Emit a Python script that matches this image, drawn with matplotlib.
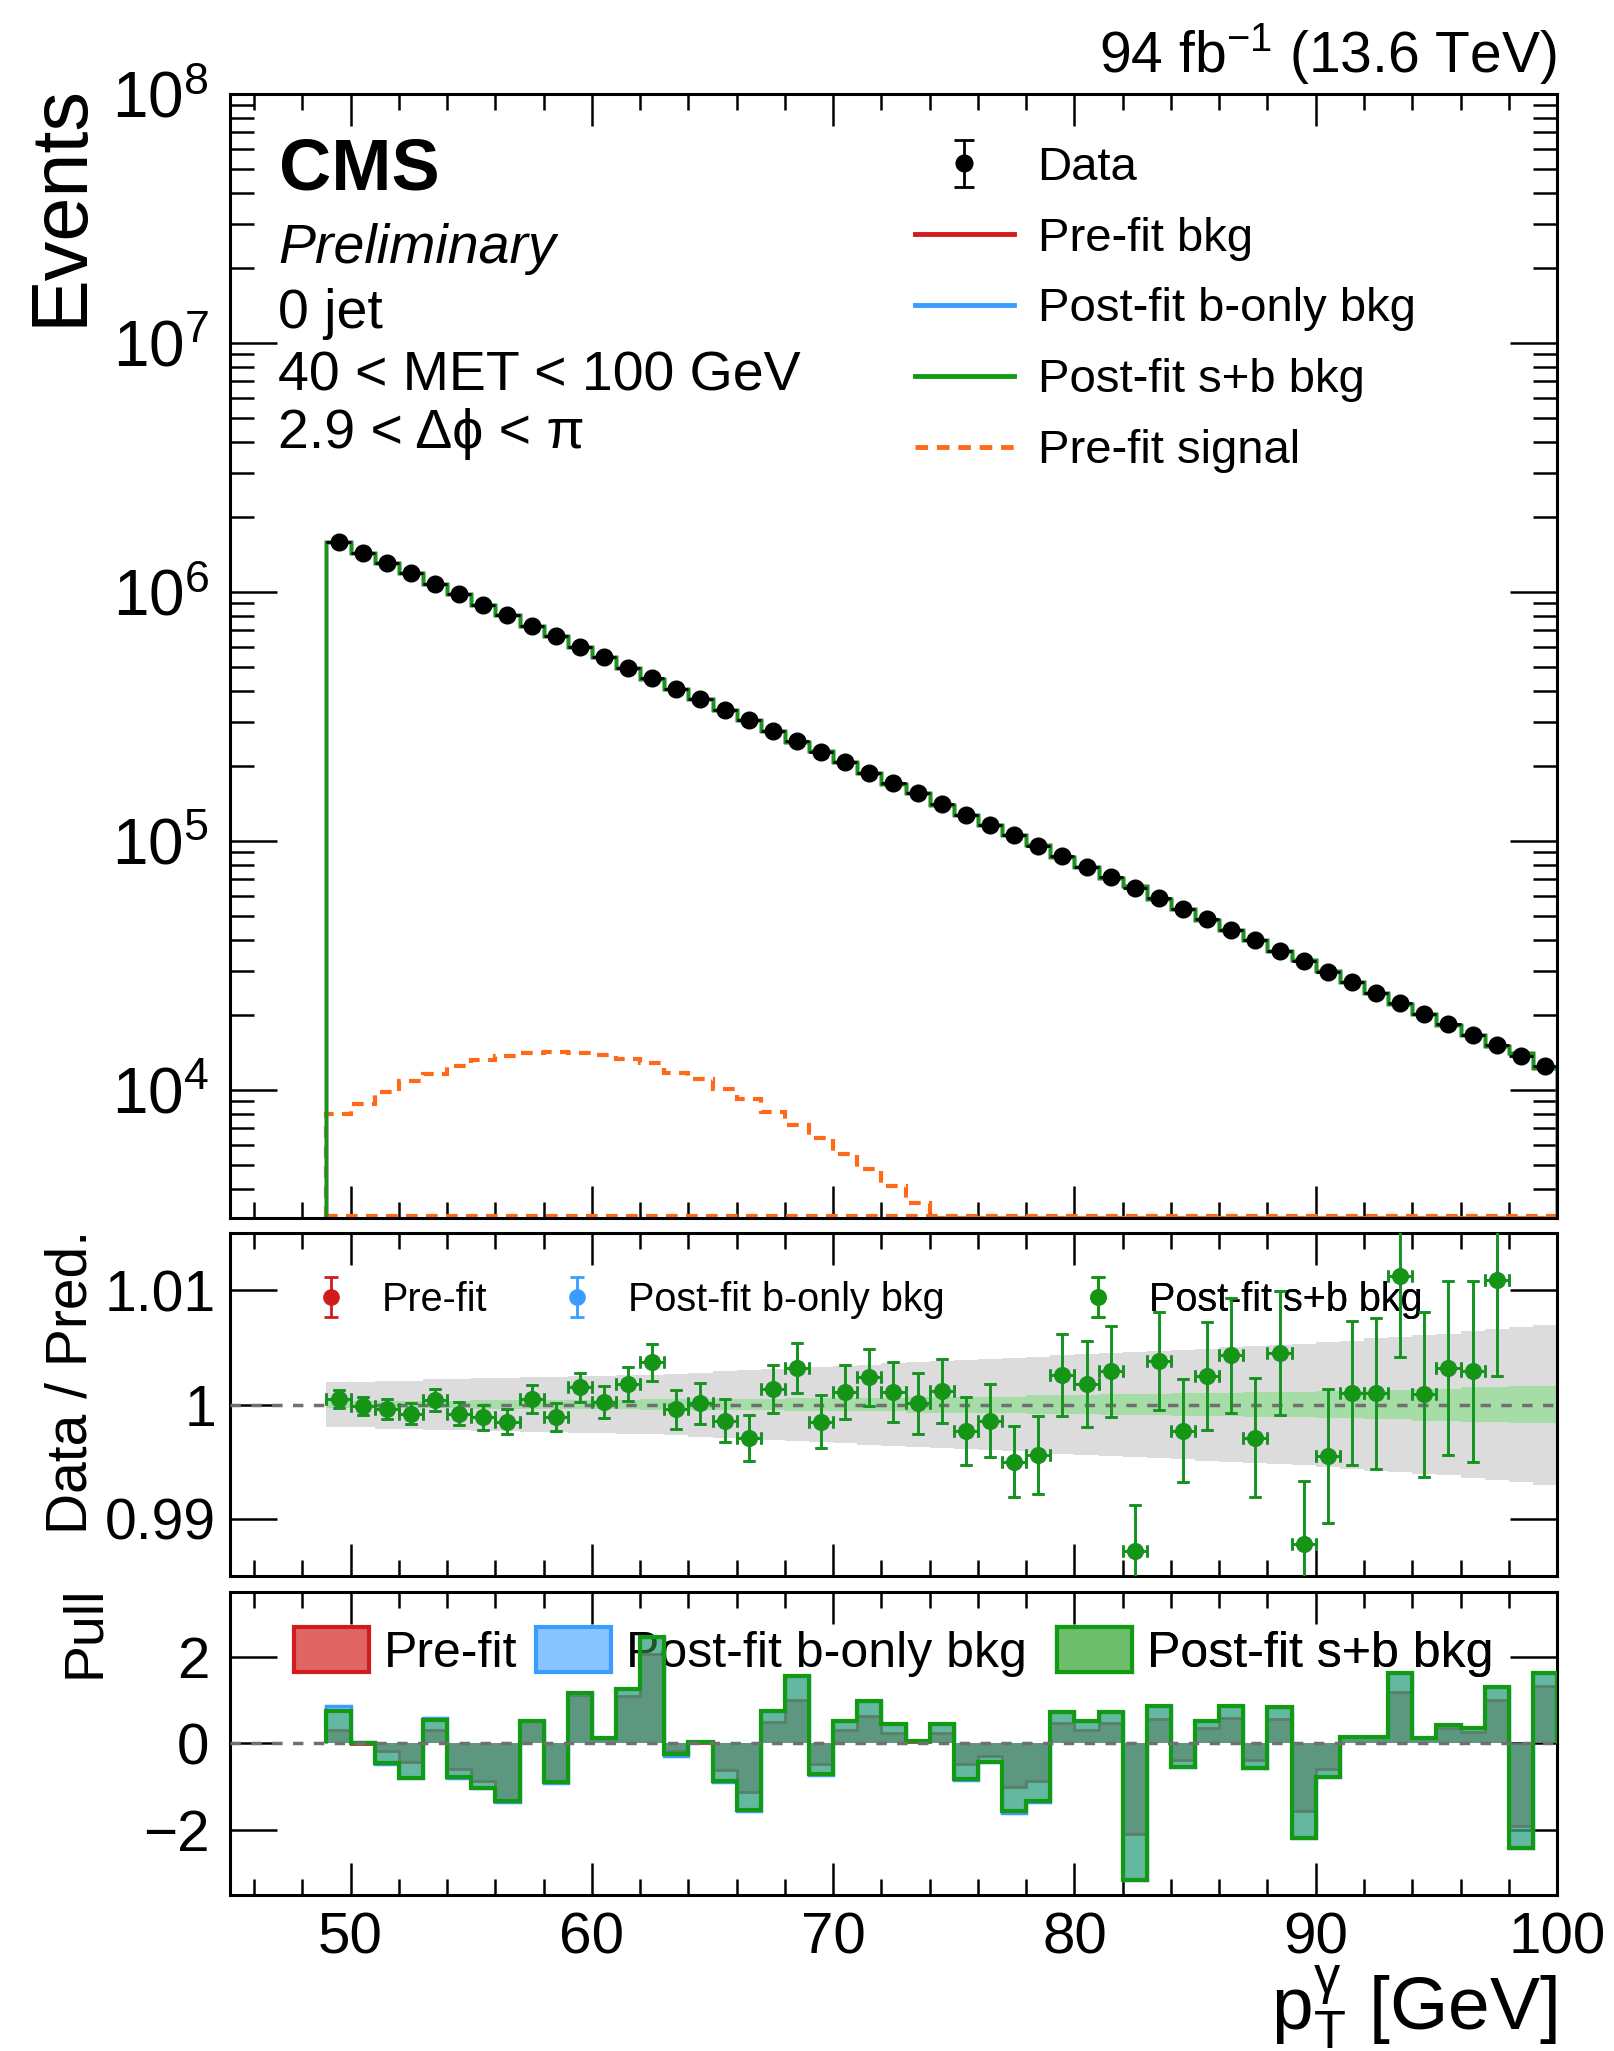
import numpy as np
import matplotlib
matplotlib.use('Agg')
import matplotlib.pyplot as plt
from matplotlib.ticker import (FixedLocator, MultipleLocator, LogLocator,
                               FuncFormatter, NullFormatter)
from matplotlib.lines import Line2D
from matplotlib.patches import Patch
from matplotlib.collections import LineCollection
from matplotlib.container import ErrorbarContainer

plt.rcParams['font.family'] = ['Liberation Sans', 'DejaVu Sans']
plt.rcParams['mathtext.fontset'] = 'custom'
plt.rcParams['mathtext.rm'] = 'Liberation Sans'
plt.rcParams['mathtext.it'] = 'Liberation Sans:italic'
plt.rcParams['mathtext.bf'] = 'Liberation Sans:bold'

# ---- data (1 GeV bins from 49 to 100 GeV) ----
pt_low, pt_high = 49, 100

data_events = [1.585e6, 1.438e6, 1.305e6, 1.185e6, 1.075e6, 9.76e5, 8.86e5, 8.04e5, 7.30e5, 6.62e5,
               6.01e5, 5.46e5, 4.95e5, 4.50e5, 4.08e5, 3.70e5, 3.36e5, 3.05e5, 2.77e5, 2.51e5,
               2.28e5, 2.07e5, 1.88e5, 1.70e5, 1.55e5, 1.40e5, 1.27e5, 1.16e5, 1.05e5, 9.53e4,
               8.65e4, 7.85e4, 7.13e4, 6.47e4, 5.87e4, 5.33e4, 4.83e4, 4.39e4, 3.98e4, 3.61e4,
               3.28e4, 2.98e4, 2.70e4, 2.45e4, 2.23e4, 2.02e4, 1.83e4, 1.66e4, 1.51e4, 1.37e4,
               1.245e4]

signal_prefit = [8.0e3, 8.8e3, 9.8e3, 1.08e4, 1.16e4, 1.25e4, 1.32e4, 1.37e4, 1.40e4, 1.42e4,
                 1.41e4, 1.38e4, 1.33e4, 1.28e4, 1.17e4, 1.10e4, 1.01e4, 9.2e3, 8.1e3, 7.2e3,
                 6.4e3, 5.5e3, 4.8e3, 4.1e3, 3.5e3, 0, 0, 0, 0, 0,
                 0, 0, 0, 0, 0, 0, 0, 0, 0, 0,
                 0, 0, 0, 0, 0, 0, 0, 0, 0, 0,
                 0]

ratio_sb = [1.0005, 0.9999, 0.9996, 0.9992, 1.0004, 0.9992, 0.9989, 0.9985, 1.0005, 0.9989,
            1.0015, 1.0002, 1.0018, 1.0037, 0.9996, 1.0001, 0.9986, 0.9971, 1.0014, 1.0032,
            0.9985, 1.0011, 1.0024, 1.0011, 1.0001, 1.0012, 0.9977, 0.9986, 0.9950, 0.9956,
            1.0026, 1.0018, 1.0029, 0.9872, 1.0038, 0.9977, 1.0025, 1.0043, 0.9971, 1.0045,
            0.9878, 0.9955, 1.0010, 1.0010, 1.0112, 1.0009, 1.0032, 1.0029, 1.0109, 0.9790,
            1.0158]

ratio_err = [0.0008, 0.0008, 0.0009, 0.0009, 0.0010, 0.0010, 0.0011, 0.0011, 0.0012, 0.0012,
             0.0013, 0.0014, 0.0015, 0.0016, 0.0017, 0.0018, 0.0019, 0.0020, 0.0021, 0.0022,
             0.0023, 0.0024, 0.0025, 0.0026, 0.0027, 0.0028, 0.0030, 0.0032, 0.0031, 0.0034,
             0.0036, 0.0038, 0.0040, 0.0040, 0.0043, 0.0045, 0.0047, 0.0050, 0.0052, 0.0054,
             0.0055, 0.0059, 0.0063, 0.0066, 0.0070, 0.0072, 0.0076, 0.0079, 0.0084, 0.0086,
             0.0090]

unc_prefit = [0.0020, 0.0020, 0.0021, 0.0021, 0.0022, 0.0022, 0.0023, 0.0023, 0.0024, 0.0024,
              0.0025, 0.0025, 0.0026, 0.0026, 0.0027, 0.0028, 0.0029, 0.0030, 0.0031, 0.0032,
              0.0033, 0.0034, 0.0035, 0.0036, 0.0037, 0.0038, 0.0039, 0.0040, 0.0041, 0.0042,
              0.0043, 0.0044, 0.0045, 0.0046, 0.0047, 0.0048, 0.0049, 0.0050, 0.0051, 0.0052,
              0.0053, 0.0055, 0.0056, 0.0058, 0.0059, 0.0061, 0.0062, 0.0064, 0.0066, 0.0068,
              0.0070]

unc_postfit = [0.0003, 0.0003, 0.0003, 0.0003, 0.0003, 0.0003, 0.0004, 0.0004, 0.0004, 0.0004,
               0.0004, 0.0004, 0.0004, 0.0005, 0.0005, 0.0005, 0.0005, 0.0005, 0.0005, 0.0006,
               0.0006, 0.0006, 0.0006, 0.0006, 0.0007, 0.0007, 0.0007, 0.0007, 0.0007, 0.0008,
               0.0008, 0.0008, 0.0009, 0.0009, 0.0009, 0.0010, 0.0010, 0.0010, 0.0011, 0.0011,
               0.0011, 0.0012, 0.0012, 0.0013, 0.0013, 0.0014, 0.0014, 0.0015, 0.0015, 0.0016,
               0.0016]

pull_prefit = [0.30, -0.01, -0.17, -0.43, 0.30, -0.58, -0.86, -1.32, 0.52, -0.90,
               1.13, 0.10, 1.09, 2.06, -0.17, 0.00, -0.62, -1.13, 0.50, 1.01,
               -0.48, 0.31, 0.64, 0.23, 0.04, 0.25, -0.48, -0.30, -1.00, -0.86,
               0.47, 0.31, 0.47, -2.10, 0.56, -0.39, 0.35, 0.58, -0.39, 0.56,
               -1.56, -0.58, 0.16, 0.16, 1.18, 0.12, 0.35, 0.27, 1.01, -1.91,
               1.32]

pull_bonly = [0.87, 0.03, -0.47, -0.80, 0.58, -0.79, -1.04, -1.35, 0.52, -0.91,
              1.17, 0.12, 1.25, 2.45, -0.28, 0.04, -0.88, -1.57, 0.74, 1.57,
              -0.72, 0.51, 0.97, 0.44, 0.06, 0.44, -0.85, -0.43, -1.60, -1.36,
              0.72, 0.51, 0.72, -3.15, 0.87, -0.55, 0.53, 0.87, -0.57, 0.84,
              -2.18, -0.78, 0.16, 0.16, 1.62, 0.12, 0.43, 0.35, 1.31, -2.41,
              1.62]

pull_sb = [0.76, 0.01, -0.45, -0.79, 0.55, -0.78, -1.03, -1.34, 0.52, -0.90,
           1.17, 0.12, 1.25, 2.45, -0.25, 0.04, -0.86, -1.54, 0.74, 1.57,
           -0.70, 0.51, 0.97, 0.44, 0.06, 0.44, -0.82, -0.42, -1.56, -1.32,
           0.72, 0.51, 0.72, -3.15, 0.87, -0.54, 0.53, 0.87, -0.56, 0.84,
           -2.18, -0.78, 0.16, 0.16, 1.62, 0.12, 0.43, 0.35, 1.31, -2.41,
           1.62]

edges = np.arange(pt_low, pt_high + 1)
centers = 0.5 * (edges[:-1] + edges[1:])
data = np.array(data_events)
ratio = np.array(ratio_sb)
rerr = np.array(ratio_err)
bkg = data / ratio          # predicted background, same for the three fits at this scale

RED = '#d01c1c'
BLUE = '#3b9cff'
GREEN = '#139a13'
PGREEN = '#149614'
ORANGE = '#ff6a1a'
XMIN, XMAX = 45, 100
YMIN, YMAX = 3.05e3, 1e8
RMIN, RMAX = 0.985, 1.015

fig = plt.figure(figsize=(16.15, 20.51), dpi=100)
ax1 = fig.add_axes([0.1424, 0.4061, 0.8217, 0.5481])
ax2 = fig.add_axes([0.1424, 0.2316, 0.8217, 0.1672])
ax3 = fig.add_axes([0.1424, 0.0761, 0.8217, 0.1477])


def style(ax, ymajor_len, yminor_len, ypad=15):
    for sp in ax.spines.values():
        sp.set_linewidth(2.2)
    ax.tick_params(which='both', direction='in', top=True, right=True, width=1.8)
    ax.tick_params(axis='x', which='major', length=23)
    ax.tick_params(axis='x', which='minor', length=11.5)
    ax.tick_params(axis='y', which='major', length=ymajor_len, pad=ypad)
    ax.tick_params(axis='y', which='minor', length=yminor_len)
    ax.xaxis.set_major_locator(MultipleLocator(10))
    ax.xaxis.set_minor_locator(MultipleLocator(2))
    ax.set_xlim(XMIN, XMAX)


def errbar_handle(color, ms, capms):
    # legend proxy: marker with a vertical error bar and caps
    marker = Line2D([], [], marker='o', ls='none', color=color, ms=ms)
    cap = Line2D([], [], marker='_', ls='none', color=color, ms=capms, mew=2)
    bars = LineCollection([], colors=color, linewidths=2)
    return ErrorbarContainer((marker, (cap, cap), (bars,)), has_xerr=False, has_yerr=True)


def entry_legend(ax, handle, label, x, y, fs, hl, pad, hh=0.7):
    leg = ax.legend([handle], [label], loc='center left', bbox_to_anchor=(x, y),
                    frameon=False, fontsize=fs, handlelength=hl, handletextpad=pad,
                    handleheight=hh, borderpad=0, borderaxespad=0)
    ax.add_artist(leg)


# ---- top panel ----
style(ax1, 34, 17)
ax1.set_yscale('log')
ax1.set_ylim(YMIN, YMAX)
ax1.yaxis.set_major_locator(LogLocator(base=10, numticks=12))
ax1.yaxis.set_minor_locator(LogLocator(base=10, subs=np.arange(2, 10), numticks=12))
ax1.yaxis.set_major_formatter(FuncFormatter(lambda v, p: r'$\mathregular{10^{%d}}$' % round(np.log10(v))))
ax1.yaxis.set_minor_formatter(NullFormatter())
ax1.tick_params(axis='y', labelsize=46)
ax1.tick_params(axis='x', labelbottom=False)

sig = np.maximum(np.array(signal_prefit), YMIN)
ax1.stairs(sig, edges, baseline=YMIN, color=ORANGE, lw=3, ls=(0, (2.8, 2.0)), zorder=2.0)
ax1.plot([edges[0], edges[-1]], [YMIN * 1.02, YMIN * 1.02], color=ORANGE, lw=3,
         ls=(0, (2.8, 2.0)), zorder=2.0)
ax1.stairs(bkg, edges, baseline=YMIN, color=RED, lw=2.5, zorder=2.1)
ax1.stairs(bkg, edges, baseline=YMIN, color=BLUE, lw=2.5, zorder=2.2)
ax1.stairs(bkg, edges, baseline=YMIN, color=GREEN, lw=2.5, zorder=2.3)
ax1.hlines(data, edges[:-1], edges[1:], color='black', lw=2, zorder=5)
ax1.errorbar(centers, data, yerr=data * rerr, fmt='o', color='black', ms=12,
             lw=2, capsize=0, zorder=6)

top_handles = [errbar_handle('black', 12, 15),
               Line2D([], [], color=RED, lw=3.5),
               Line2D([], [], color=BLUE, lw=3.5),
               Line2D([], [], color=GREEN, lw=3.5),
               Line2D([], [], color=ORANGE, lw=3.5, ls=(0, (2.6, 1.8)))]
top_labels = ['Data', 'Pre-fit bkg', 'Post-fit b-only bkg', 'Post-fit s+b bkg', 'Pre-fit signal']
ax1.legend(top_handles, top_labels, loc='upper left', bbox_to_anchor=(0.516, 0.954),
           frameon=False, fontsize=34, handlelength=2.1, handletextpad=0.5,
           labelspacing=0.57, borderpad=0, borderaxespad=0)

ax1.text(0.037, 0.9146, 'CMS', fontsize=52, fontweight='bold', transform=ax1.transAxes,
         va='baseline')
ax1.text(0.0365, 0.8496, 'Preliminary', fontsize=40, style='italic', transform=ax1.transAxes,
         va='baseline')
ax1.text(0.0365, 0.7918, '0 jet', fontsize=40, transform=ax1.transAxes, va='baseline')
ax1.text(0.0365, 0.7358, '40 < MET < 100 GeV', fontsize=40, transform=ax1.transAxes,
         va='baseline')
ax1.text(0.0365, 0.685, '2.9 < \u0394\u03d5 < \u03c0', fontsize=40, transform=ax1.transAxes,
         va='baseline')
ax1.text(1.0, 1.0196, r'94 fb$^{-1}$ (13.6 TeV)', fontsize=41, ha='right', va='baseline',
         transform=ax1.transAxes)

ax1.set_ylabel('Events', fontsize=57, loc='top')
ax1.yaxis.set_label_coords(-0.099, 1.009)

# ---- ratio panel ----
style(ax2, 34, 0, ypad=10)
ax2.set_ylim(RMIN, RMAX)
ax2.yaxis.set_major_locator(FixedLocator([0.99, 1.0, 1.01]))
ax2.yaxis.set_minor_locator(FixedLocator([]))
ax2.yaxis.set_major_formatter(FuncFormatter(lambda v, p: '%g' % v))
ax2.tick_params(axis='y', labelsize=41)
ax2.tick_params(axis='x', labelbottom=False)

up = np.array(unc_prefit)
uf = np.array(unc_postfit)
ax2.stairs(1 + up, edges, baseline=1 - up, fill=True, color='#dcdcdc', lw=0, zorder=1)
ax2.stairs(1 + uf, edges, baseline=1 - uf, fill=True, color='#a6dca6', lw=0, zorder=2)
ax2.axhline(1.0, color='#707070', lw=2.5, ls=(0, (3, 3)), zorder=3)

# points outside the frame are not drawn
inside = (ratio > RMIN) & (ratio < RMAX)
for col, z in [(RED, 4), (BLUE, 5), (PGREEN, 6)]:
    ax2.errorbar(centers[inside], ratio[inside], yerr=rerr[inside], xerr=0.5, fmt='o',
                 color=col, ms=11, lw=2, capsize=4, capthick=2, zorder=z)

for col, lab, xm in [(RED, 'Pre-fit', 0.076), (BLUE, 'Post-fit b-only bkg', 0.2615),
                     (PGREEN, 'Post-fit s+b bkg', 0.654)]:
    entry_legend(ax2, errbar_handle(col, 11, 10), lab, xm - 0.015, 0.805, 28.5, 1.0, 0.8)

ax2.set_ylabel('Data / Pred.', fontsize=41, loc='top')
ax2.yaxis.set_label_coords(-0.099, 1.01)

# ---- pull panel ----
style(ax3, 34, 0)
ax3.set_ylim(-3.5, 3.5)
ax3.yaxis.set_major_locator(FixedLocator([-2, 0, 2]))
ax3.yaxis.set_minor_locator(FixedLocator([]))
ax3.tick_params(axis='y', labelsize=42)
ax3.tick_params(axis='x', labelsize=42, pad=12)

fills = [(pull_prefit, (210 / 255, 30 / 255, 30 / 255, 0.6), RED, 2.0),
         (pull_bonly, (30 / 255, 144 / 255, 1.0, 0.5), BLUE, 2.5),
         (pull_sb, (60 / 255, 170 / 255, 70 / 255, 0.5), GREEN, 3.0)]
for i, (vals, face, edge, lw) in enumerate(fills):
    ax3.stairs(vals, edges, baseline=0, fill=True, facecolor=face, lw=0, zorder=2 + 2 * i)
    ax3.stairs(vals, edges, baseline=0, color=edge, lw=lw, zorder=3 + 2 * i)
ax3.axhline(0.0, color='#707070', lw=2.5, ls=(0, (3, 3)), zorder=10)

for face, edge, lab, xb in [('#e06666', RED, 'Pre-fit', 0.048),
                            ('#88c4ff', BLUE, 'Post-fit b-only bkg', 0.2306),
                            ('#6ebe6e', GREEN, 'Post-fit s+b bkg', 0.623)]:
    h = Patch(facecolor=face, edgecolor=edge, linewidth=3)
    entry_legend(ax3, h, lab, xb, 0.802, 36, 1.5, 0.3, hh=1.0)

ax3.set_ylabel('Pull', fontsize=40, loc='top')
ax3.yaxis.set_label_coords(-0.090, 1.02)
ax3.set_xlabel(r'p$_{\mathregular{T}}^{\mathregular{\gamma}}$ [GeV]', fontsize=54, loc='right')
ax3.xaxis.set_label_coords(1.0, -0.227)

fig.savefig('out.png', dpi=100)
